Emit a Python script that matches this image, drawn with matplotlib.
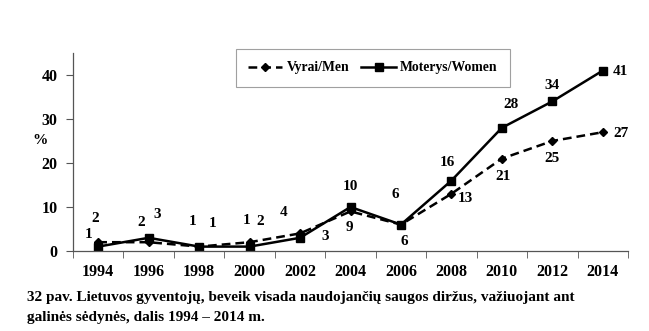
import numpy as np
import matplotlib
matplotlib.use("Agg")
import matplotlib.pyplot as plt

# --- data -----------------------------------------------------------------
years = ["1994", "1996", "1998", "2000", "2002", "2004", "2006",
         "2008", "2010", "2012", "2014"]
men = [2, 2, 1, 2, 4, 9, 6, 13, 21, 25, 27]
women = [1, 3, 1, 1, 3, 10, 6, 16, 28, 34, 41]

# label offsets in pixels (style only)
off_men = [(-3, 24), (-7, 20), (-7, 25), (11, 21), (-16, 21), (-1, -16),
           (3, -17), (14, -5), (1, -18), (0, -17), (18, -1)]
off_women = [(-10, 12), (9, 23), (13, 23), (-3, 26), (25, 1), (0, 20),
             (-6, 30), (-4, 18), (9, 23), (0, 16), (18, -1)]

plt.rcParams["font.family"] = "Liberation Serif"
plt.rcParams["font.weight"] = "bold"

W, H = 649, 331
fig = plt.figure(figsize=(W / 100, H / 100), dpi=100)
ax = fig.add_axes([73 / W, (H - 251) / H, 555 / W, 198 / H])

x = np.arange(len(years))
ax.plot(x, men, color="black", lw=1.8, ls=(0, (3.5, 2)), marker="D",
        ms=4, label="Vyrai/Men")
ax.plot(x, women, color="black", lw=1.8, marker="s", ms=6,
        label="Moterys/Women")

for i in range(len(years)):
    ax.annotate(str(men[i]), (x[i], men[i]), xytext=off_men[i],
                textcoords="offset pixels", ha="center", va="center",
                fontsize=11, fontweight="bold")
    ax.annotate(str(women[i]), (x[i], women[i]), xytext=off_women[i],
                textcoords="offset pixels", ha="center", va="center",
                fontsize=11, fontweight="bold")

ax.set_xlim(-0.5, len(years) - 0.5)
ax.set_ylim(0, 45)
ax.set_yticks([0, 10, 20, 30, 40])
ax.set_xticks(x)
ax.set_xticklabels(years)
ax.set_xticks(np.arange(-0.5, len(years), 1), minor=True)
ax.tick_params(axis="x", which="major", length=0, pad=9, labelsize=11.5)
ax.tick_params(axis="x", which="minor", length=5, color="#555555")
ax.tick_params(axis="y", length=5, pad=6, labelsize=11.5, color="#555555")
for lab in ax.get_xticklabels() + ax.get_yticklabels():
    lab.set_fontweight("bold")

for s in ["top", "right"]:
    ax.spines[s].set_visible(False)
for s in ["left", "bottom"]:
    ax.spines[s].set_color("#555555")
    ax.spines[s].set_linewidth(0.9)

fig.text(40 / W, 1 - 140 / H, "%", ha="center", va="center",
         fontsize=11, fontweight="bold")

leg = ax.legend(loc="center", bbox_to_anchor=(0.540, 0.925), ncol=2,
                frameon=True, fancybox=False, edgecolor="#888888",
                fontsize=9.9, handlelength=2.5, columnspacing=0.9,
                borderpad=0.9, borderaxespad=0, handletextpad=0.3)
leg.get_frame().set_linewidth(0.8)
for t in leg.get_texts():
    t.set_fontweight("bold")

fig.text(27 / W, 1 - 297 / H,
         "32 pav. Lietuvos gyventojų, beveik visada naudojančių saugos "
         "diržus, važiuojant ant", ha="left", va="center", fontsize=11,
         fontweight="bold")
fig.text(27 / W, 1 - 318 / H, "galinės sėdynės, dalis 1994 – 2014 m.",
         ha="left", va="center", fontsize=11, fontweight="bold")

fig.savefig("out.png", dpi=100)
